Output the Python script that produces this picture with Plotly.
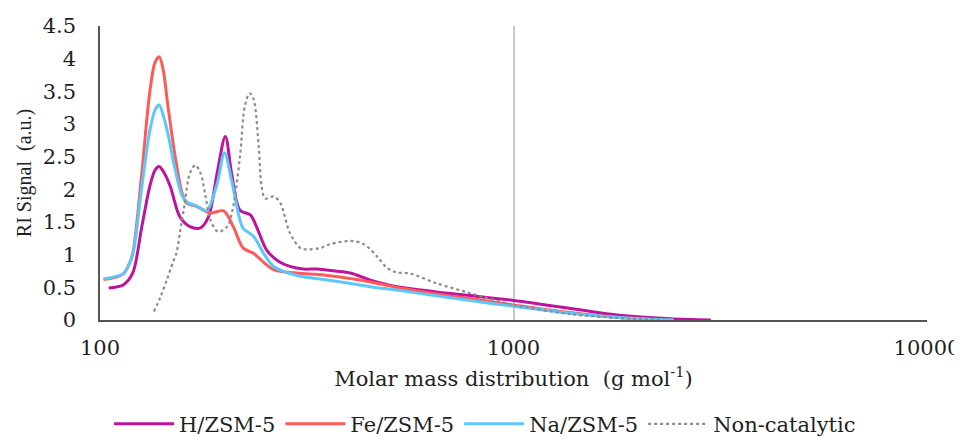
import plotly.graph_objects as go

# ---- data ----
h_x = [105, 114, 120, 126, 132, 136, 139, 143, 148, 156, 165, 175, 183, 192, 201, 208, 218, 231, 239, 253, 270, 288, 310, 335, 370, 403, 451, 504, 532, 650, 800, 1000, 1300, 1656, 2000, 2400, 3000]
h_y = [0.49, 0.54, 0.72, 1.4, 2.05, 2.3, 2.35, 2.25, 2.04, 1.58, 1.43, 1.41, 1.58, 2.25, 2.81, 2.25, 1.68, 1.61, 1.43, 1.07, 0.9, 0.82, 0.78, 0.78, 0.75, 0.72, 0.61, 0.53, 0.5, 0.43, 0.37, 0.30, 0.2, 0.1, 0.05, 0.02, 0.0]

fe_x = [102, 110, 114, 117, 120, 126, 132, 136, 139, 142, 146, 152, 158, 162, 171, 185, 199, 210, 222, 235, 263, 299, 347, 418, 504, 532, 650, 800, 1000, 1300, 1700, 2000, 2270]
fe_y = [0.62, 0.66, 0.71, 0.82, 1.02, 2.2, 3.5, 3.95, 4.03, 3.85, 3.27, 2.5, 1.94, 1.79, 1.74, 1.64, 1.67, 1.43, 1.10, 1.02, 0.77, 0.72, 0.69, 0.62, 0.52, 0.49, 0.40, 0.32, 0.23, 0.13, 0.05, 0.02, 0.0]

na_x = [102, 114, 117, 120, 126, 132, 136, 139, 142, 146, 152, 158, 162, 172, 181, 192, 200, 208, 218, 222, 235, 250, 263, 300, 347, 404, 451, 532, 650, 800, 1000, 1300, 1700, 2100, 2445]
na_y = [0.63, 0.71, 0.82, 1.0, 2.0, 2.9, 3.22, 3.29, 3.15, 2.85, 2.3, 1.9, 1.81, 1.74, 1.67, 2.09, 2.56, 2.14, 1.53, 1.40, 1.28, 1.0, 0.82, 0.68, 0.62, 0.56, 0.51, 0.45, 0.37, 0.29, 0.21, 0.12, 0.05, 0.015, 0.0]

nc_x = [135, 140, 145, 150, 153, 156, 160, 165, 170, 175, 180, 185, 193, 203, 210, 218, 224, 230, 235, 242, 246, 251, 263, 273, 288, 305, 316, 340, 360, 403, 435, 468, 494, 520, 563, 653, 787, 1000, 1374, 1800, 2300]
nc_y = [0.13, 0.35, 0.61, 0.88, 1.02, 1.33, 1.75, 2.25, 2.37, 2.25, 1.89, 1.53, 1.35, 1.43, 1.74, 2.5, 3.27, 3.47, 3.39, 2.65, 2.04, 1.86, 1.89, 1.79, 1.33, 1.10, 1.08, 1.1, 1.16, 1.21, 1.16, 0.97, 0.80, 0.73, 0.71, 0.56, 0.41, 0.23, 0.09, 0.03, 0.0]

series_names = ["H/ZSM-5", "Fe/ZSM-5", "Na/ZSM-5", "Non-catalytic"]
x_ticks = [100, 1000, 10000]
x_tick_text = ["100", "1000", "10000"]
y_ticks = [0, 0.5, 1, 1.5, 2, 2.5, 3, 3.5, 4, 4.5]
y_tick_text = ["0", "0.5", "1", "1.5", "2", "2.5", "3", "3.5", "4", "4.5"]

FONT = "DejaVu Serif"
YFONT = "Liberation Serif"
FS = 21
TXT = "#1f1f1f"

fig = go.Figure()
styles = [
    (h_x, h_y, "#C0139C", 3, "solid"),
    (fe_x, fe_y, "#FF5A5A", 3, "solid"),
    (na_x, na_y, "#5CC8FA", 3, "solid"),
    (nc_x, nc_y, "#8C8C8C", 2.2, "dot"),
]
for name, (xs, ys, col, w, dash) in zip(series_names, styles):
    fig.add_trace(go.Scatter(
        x=xs, y=ys, mode="lines", name=name,
        line=dict(color=col, width=w, dash=dash, shape="spline", smoothing=0.9),
    ))

# page body has an 8px margin: figure is sized to the visible area
fig.update_layout(
    width=954, height=429,
    margin=dict(l=92, r=35, t=18, b=117, autoexpand=False),
    paper_bgcolor="white", plot_bgcolor="white",
    font=dict(family=FONT, size=FS, color=TXT),
    showlegend=True,
    legend=dict(orientation="h", xref="container", x=0.5, xanchor="center",
                yref="container", y=0.03, yanchor="middle",
                font=dict(family=FONT, size=FS, color=TXT),
                itemwidth=60, traceorder="normal"),
)
fig.update_xaxes(
    type="log", range=[2, 4],
    tickvals=x_ticks, ticktext=x_tick_text,
    tickfont=dict(family=FONT, size=FS, color=TXT),
    showgrid=True, gridcolor="#C8C8C8", gridwidth=1.5,
    showline=True, linecolor="#555555", linewidth=1.5,
    ticks="", ticklabelstandoff=8,
    title=dict(text="Molar mass distribution  (g mol<sup>-1</sup>)", standoff=12,
               font=dict(family=FONT, size=FS, color=TXT)),
    zeroline=False, automargin=False,
)
fig.update_yaxes(
    range=[0, 4.5],
    tickvals=y_ticks, ticktext=y_tick_text,
    tickfont=dict(family=FONT, size=FS, color=TXT),
    showgrid=False,
    showline=True, linecolor="#555555", linewidth=1.5,
    ticks="", ticklabelstandoff=18,
    title=dict(text="RI Signal  (a.u.)", standoff=6,
               font=dict(family=YFONT, size=20, color=TXT)),
    zeroline=False, automargin=False,
)

fig.write_html("out.html")
